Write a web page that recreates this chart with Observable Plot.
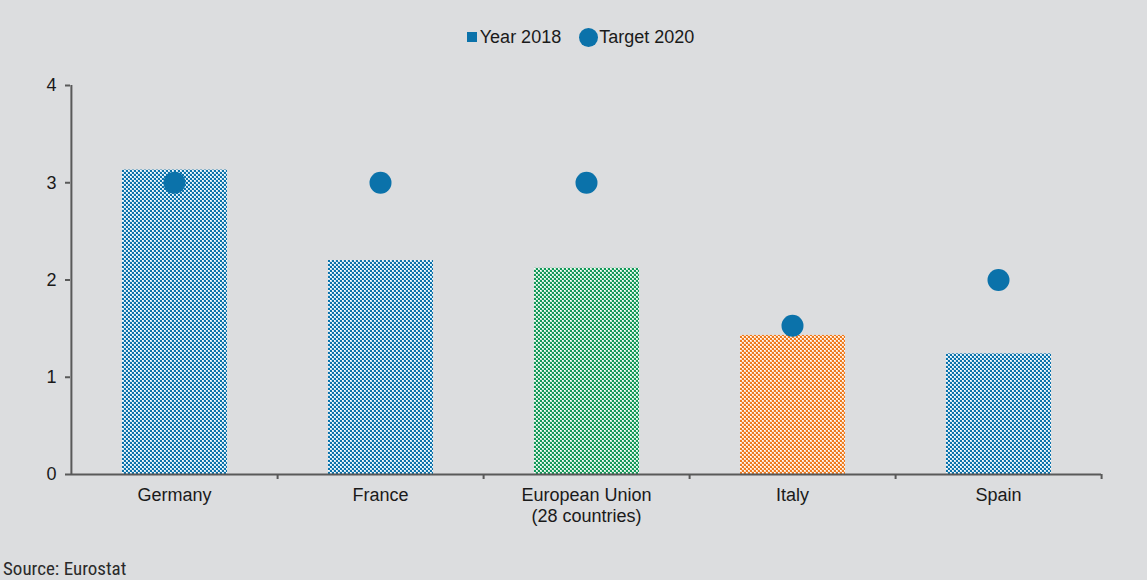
<!DOCTYPE html>
<html>
<head>
<meta charset="utf-8">
<script src="https://cdn.jsdelivr.net/npm/d3@7"></script>
<script src="https://cdn.jsdelivr.net/npm/@observablehq/plot@0.6"></script>
<style>
  html, body { margin: 0; padding: 0; background: #dcdddf; width: 1147px; height: 580px; overflow: hidden; }
  body { font-family: "Liberation Sans", Arial, sans-serif; color: #1a1a1a; }
  #legend { height: 60px; padding-top: 27px; display: flex; justify-content: center; align-items: flex-start; font-size: 18px; line-height: 20px; padding-left: 14px; box-sizing: border-box; }
  .item { display: flex; align-items: center; margin: 0 2px; }
  .sq { width: 10px; height: 10px; background: #0b72aa; margin-right: 3px; }
  .ci { width: 19px; height: 19px; border-radius: 50%; background: #0b72aa; margin-left: 14px; margin-right: 1px; }
  #source { font-family: "Liberation Sans Narrow", "Roboto Condensed", "Liberation Sans", sans-serif; font-stretch: condensed; font-size: 19px; line-height: 20px; color: #2a2a2a; padding-left: 3px; margin-top: 9px; }
</style>
</head>
<body>
<svg width="0" height="0" style="position:absolute">
  <defs>
    <pattern id="pat-blue" width="4" height="4" patternUnits="userSpaceOnUse">
      <rect width="4" height="4" fill="#cce4f2"/>
      <rect x="0" y="0" width="2" height="2" fill="#0b72aa"/>
      <rect x="2" y="2" width="2" height="2" fill="#0b72aa"/>
      <rect x="2" y="0" width="1" height="1" fill="#ffffff"/>
      <rect x="0" y="2" width="1" height="1" fill="#ffffff"/>
    </pattern>
    <pattern id="pat-green" width="4" height="4" patternUnits="userSpaceOnUse">
      <rect width="4" height="4" fill="#c8e9d4"/>
      <rect x="0" y="0" width="2" height="2" fill="#12985a"/>
      <rect x="2" y="2" width="2" height="2" fill="#12985a"/>
      <rect x="2" y="0" width="1" height="1" fill="#ffffff"/>
      <rect x="0" y="2" width="1" height="1" fill="#ffffff"/>
    </pattern>
    <pattern id="pat-orange" width="4" height="4" patternUnits="userSpaceOnUse">
      <rect width="4" height="4" fill="#fbdcc2"/>
      <rect x="0" y="0" width="2" height="2" fill="#ee7a1e"/>
      <rect x="2" y="2" width="2" height="2" fill="#ee7a1e"/>
      <rect x="2" y="0" width="1" height="1" fill="#ffffff"/>
      <rect x="0" y="2" width="1" height="1" fill="#ffffff"/>
    </pattern>
  </defs>
</svg>
<div id="legend">
  <div class="item"><div class="sq"></div><span>Year 2018</span></div>
  <div class="item"><div class="ci"></div><span>Target 2020</span></div>
</div>
<div id="chart"></div>
<div id="source">Source: Eurostat</div>
<script>
const countries = ["Germany", "France", "European Union\n(28 countries)", "Italy", "Spain"];
const year2018 = [3.13, 2.2, 2.12, 1.43, 1.24];
const target2020 = [3, 3, 3, 1.53, 2];
const barGroup = ["blue", "blue", "green", "orange", "blue"];
const yTicks = [0, 1, 2, 3, 4];

const data = countries.map((c, i) => ({country: c, value: year2018[i], target: target2020[i], group: barGroup[i]}));

const width = 1147, height = 490;
const marginLeft = 70, marginRight = 46, marginTop = 25, marginBottom = 76;
const step = (width - marginLeft - marginRight) / countries.length;
const axisColor = "#595959";

const barMark = (g) => Plot.barY(data.filter(d => d.group === g), {
  x: "country", y: "value", fill: `url(#pat-${g})`, insetLeft: 51, insetRight: 50
});

const chart = Plot.plot({
  width, height, marginLeft, marginRight, marginTop, marginBottom,
  style: {background: "transparent", fontFamily: "Liberation Sans, Arial, sans-serif", fontSize: "18px", color: "#1a1a1a"},
  x: {domain: countries, padding: 0, label: null},
  y: {domain: [0, 4], label: null},
  marks: [
    barMark("blue"),
    barMark("green"),
    barMark("orange"),
    Plot.dot(data, {x: "country", y: "target", r: 11, fill: "#0b72aa"}),
    Plot.ruleY([0], {stroke: axisColor, strokeWidth: 2}),
    Plot.ruleX([countries[0]], {y1: 0, y2: 4, dx: -step / 2, stroke: axisColor, strokeWidth: 2}),
    Plot.ruleX(countries, {y1: 0, y2: 0, insetBottom: -5, dx: step / 2, stroke: axisColor, strokeWidth: 2}),
    Plot.axisY({ticks: yTicks, tickFormat: d3.format("d"), tickSize: 5, tickPadding: 9, stroke: axisColor, strokeWidth: 2, fill: "#1a1a1a", fontSize: 18, label: null}),
    Plot.axisX({tickSize: 0, tickPadding: 11, fill: "#1a1a1a", fontSize: 18, label: null, lineHeight: 1.2})
  ]
});
document.getElementById("chart").appendChild(chart);
</script>
</body>
</html>
